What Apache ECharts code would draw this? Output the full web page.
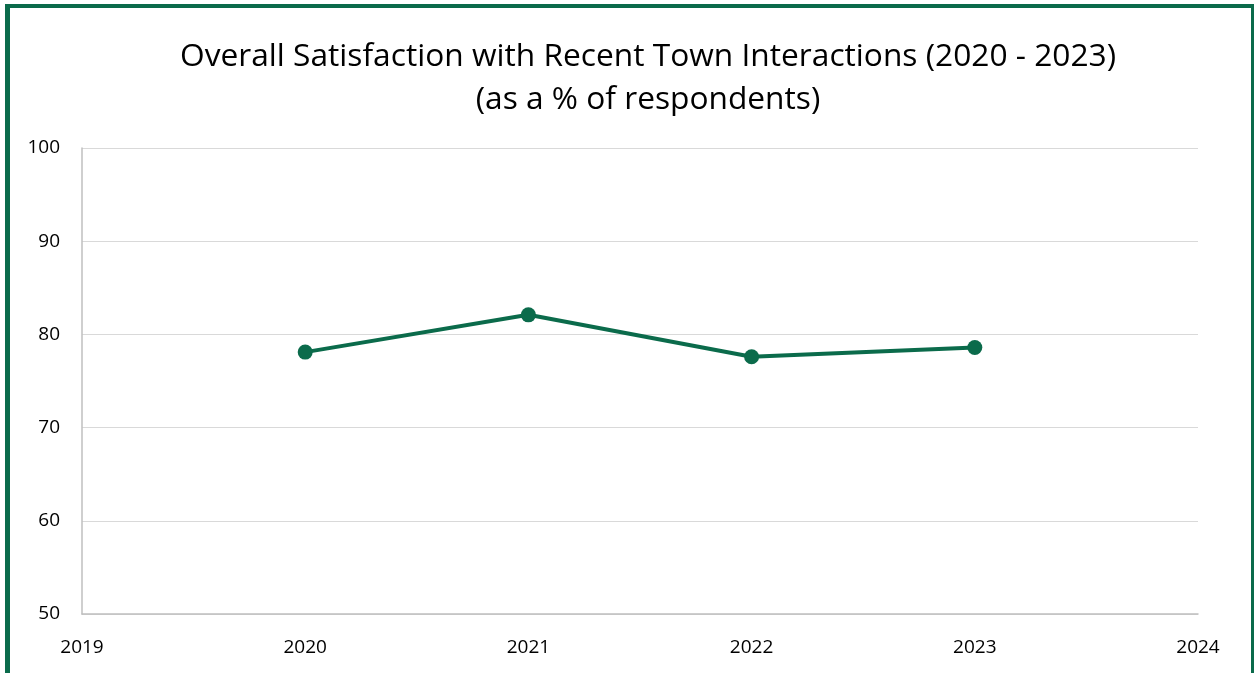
<!DOCTYPE html>
<html lang="en">
<head>
    <meta charset="UTF-8">
    <title>Overall Satisfaction</title>
    <script src="https://cdn.jsdelivr.net/npm/echarts@6/dist/echarts.min.js"></script>
    <style>
        html, body { margin:0; padding:0; background:#fff; overflow:hidden; }
        #main { position:absolute; left:0; top:0; width:1254px; height:673px; }
        #frame { position:absolute; left:5px; top:4px; width:1241px; height:700px;
                 border-left:5px solid #0b6b4b; border-top:4px solid #0b6b4b; border-right:4px solid #0b6b4b;
                 pointer-events:none; }
    </style>
</head>
<body>
    <div id="main"></div>
    <div id="frame"></div>
    <script>
    // data
    var years = [2020, 2021, 2022, 2023];
    var satisfaction = [78.1, 82.1, 77.6, 78.6];

    var myChart = echarts.init(document.getElementById('main'));
    var font = 'Open Sans';

    myChart.setOption({
        animation: false,
        title: {
            text: 'Overall Satisfaction with Recent Town Interactions (2020 - 2023)\n(as a % of respondents)',
            left: 643,
            textAlign: 'center',
            top: 30,
            textStyle: { fontFamily: font, fontSize: 31.7, fontWeight: 'normal', color: '#000', lineHeight: 43 }
        },
        grid: { left: 82, right: 56, top: 148, bottom: 59 },
        xAxis: {
            type: 'value',
            min: 2019, max: 2024, interval: 1,
            axisLine: { show: true, lineStyle: { color: '#bfbfbf', width: 1.5 } },
            axisTick: { show: false },
            splitLine: { show: false },
            axisLabel: { fontFamily: font, fontSize: 19, color: '#000', margin: 24,
                formatter: function (v) { return String(v); } }
        },
        yAxis: {
            type: 'value',
            min: 50, max: 100, interval: 10,
            axisLine: { show: true, lineStyle: { color: '#bfbfbf', width: 1.5 } },
            axisTick: { show: false },
            splitLine: { lineStyle: { color: '#d9d9d9', width: 1 } },
            axisLabel: { fontFamily: font, fontSize: 19, color: '#000', margin: 22 }
        },
        series: [{
            type: 'line',
            data: years.map(function (y, i) { return [y, satisfaction[i]]; }),
            symbol: 'circle',
            symbolSize: 15,
            itemStyle: { color: '#0b6b4b' },
            lineStyle: { color: '#0b6b4b', width: 4 }
        }]
    });
    </script>
</body>
</html>
